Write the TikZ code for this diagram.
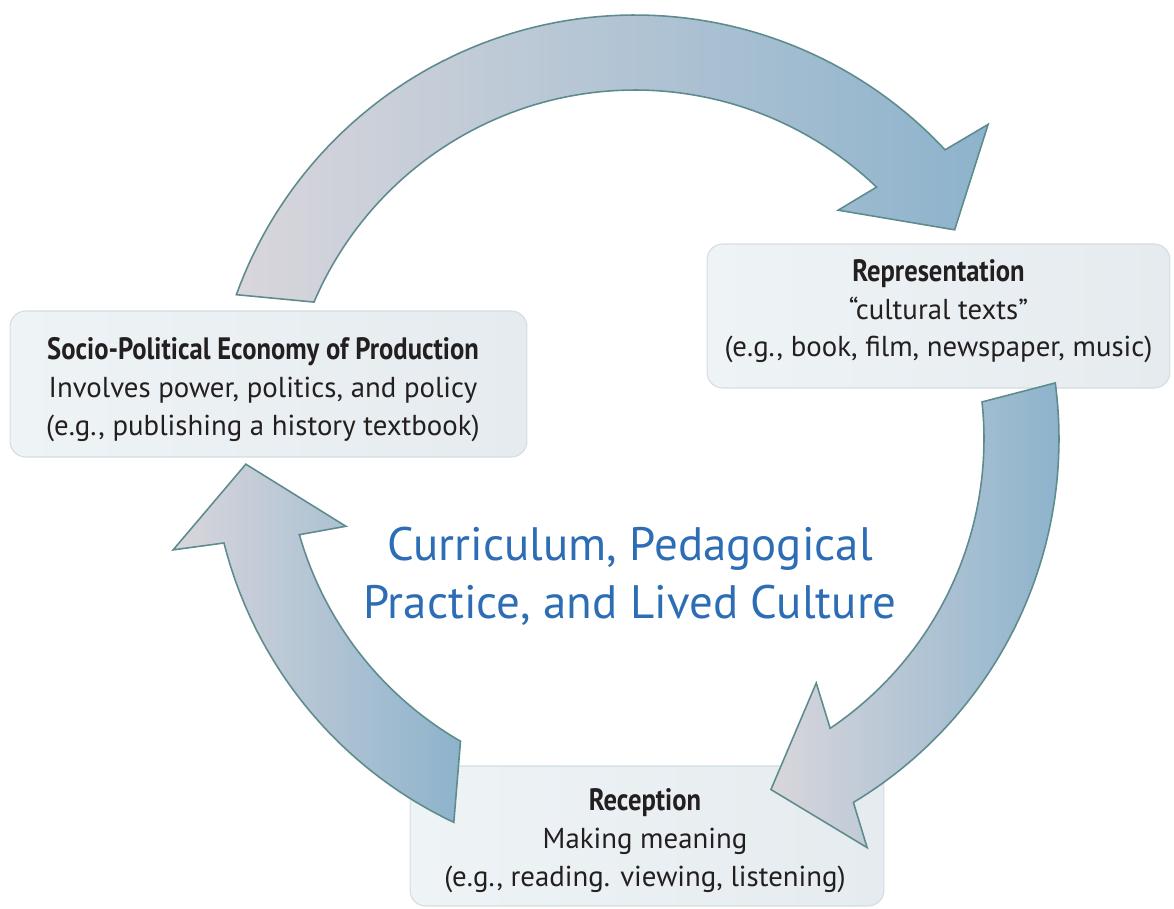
\documentclass[tikz,border=0pt]{standalone}
\usepackage{fontspec}
\setmainfont{PT Sans}
\newfontfamily\headfont{PT Sans}[FakeStretch=0.86]
\definecolor{textdark}{HTML}{231F20}
\definecolor{themeblue}{HTML}{2C6DB5}
\definecolor{panelA}{HTML}{EEF3F6}
\definecolor{panelB}{HTML}{E5EBEE}
\definecolor{panelline}{HTML}{D2DCE1}
\definecolor{arrowgrey}{HTML}{D9D6DC}
\definecolor{arrowblue}{HTML}{8DB3CC}
\definecolor{arrowline}{HTML}{5E8C8E}
\tikzset{
  panel/.style={draw=panelline, line width=0.6pt, rounded corners=9pt,
    left color=panelA, right color=panelB, inner sep=0pt},
  paneltext/.style={align=center, text=textdark, inner sep=0pt,
    font=\fontsize{16.4}{21.4}\selectfont},
  cyclearrow/.style={draw=arrowline, line width=0.9pt, line join=miter,
    left color=arrowgrey, right color=arrowblue},
  caption/.style={align=center, text=themeblue, inner sep=0pt,
    font=\fontsize{26.7}{33}\selectfont},
}
\newcommand{\headline}[1]{{\headfont\bfseries\fontsize{17.6}{21.4}\selectfont #1}}
\begin{document}
\begin{tikzpicture}[x=0.02cm, y=-0.02cm]
  \path[use as bounding box] (0,0) rectangle (1174,909);

  % the three stages of the cycle
  \node[panel, minimum width=10.34cm, minimum height=2.92cm] (production) at (268.5,384) {};
  \node[paneltext] (production-text) at (263,389.7)
    {\headline{Socio-Political Economy of Production}\\
     Involves power, politics, and policy\\
     (e.g., publishing a history textbook)};
  \node[panel, minimum width=9.26cm, minimum height=2.88cm] (representation) at (938.5,316) {};
  \node[paneltext] (representation-text) at (938.5,311.4)
    {\headline{Representation}\\
     “cultural texts”\\
     (e.g., book, film, newspaper, music)};
  \node[panel, minimum width=9.48cm, minimum height=2.8cm] (reception) at (647,836) {};
  \node[paneltext] (reception-text) at (645,840.7)
    {\headline{Reception}\\
     Making meaning\\
     (e.g., reading. viewing, listening)};

  % theme in the middle of the cycle
  \node[caption] (theme) at (630,576.5)
    {Curriculum, Pedagogical\\Practice, and Lived Culture};

  % curved block arrows, all on one ring around the centre of the cycle
  \coordinate (hub) at (635,439);
  \begin{scope}[shift={(hub)}]
    % production -> representation
    \draw[cyclearrow]
      plot[domain=-160.1:-43, samples=80] ({424*cos(\x)},{424*sin(\x)})
      -- (-41.7:473) -- (-33.2:382) -- (-48.4:306) -- (-46.2:349)
      -- plot[domain=-46.2:-156.9, samples=80] ({349*cos(\x)},{349*sin(\x)})
      -- cycle;
    % representation -> reception
    \draw[cyclearrow]
      plot[domain=-7.6:59, samples=60] ({424*cos(\x)},{424*sin(\x)})
      -- (60.4:470) -- (68.8:376) -- (53.4:304) -- (56:349)
      -- plot[domain=56:-6.1, samples=60] ({349*cos(\x)},{349*sin(\x)})
      -- cycle;
    % reception -> production
    \draw[cyclearrow]
      plot[domain=115.3:165.8, samples=60] ({424*cos(\x)},{424*sin(\x)})
      -- (166.5:475) -- (176.3:390) -- (163.2:302) -- (164.1:350)
      -- plot[domain=164.1:120, samples=60] ({349*cos(\x)},{349*sin(\x)})
      -- cycle;
  \end{scope}
\end{tikzpicture}
\end{document}
